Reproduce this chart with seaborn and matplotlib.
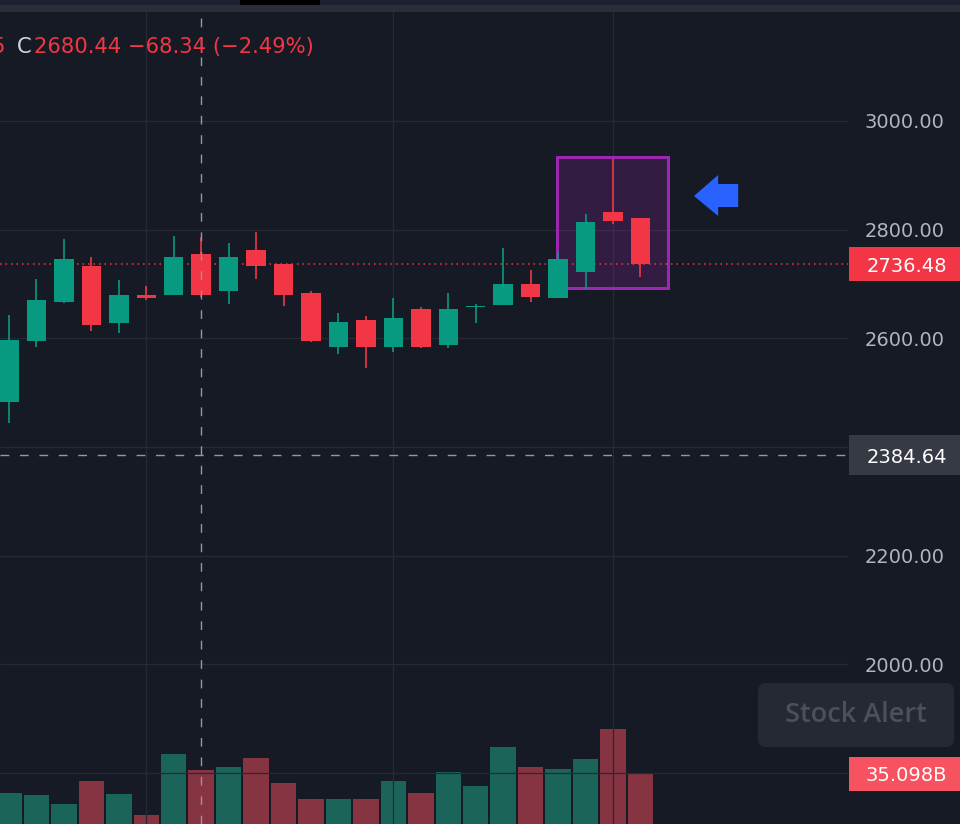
import numpy as np
import pandas as pd
import matplotlib
matplotlib.use("Agg")
import matplotlib.pyplot as plt
import seaborn as sns
from matplotlib.patches import Rectangle, FancyBboxPatch, Polygon
from matplotlib.transforms import blended_transform_factory, IdentityTransform

# ---------------- data ----------------
opens = [2482.8, 2595.1, 2666.9, 2733.1, 2628.2, 2679.7, 2679.7, 2755.2, 2687.1, 2762.6, 2736.8, 2683.4,
         2584.0, 2633.7, 2584.0, 2654.0, 2587.7, 2657.6, 2661.3, 2700.0, 2674.2, 2722.1, 2832.5, 2821.5]
highs = [2642.9, 2709.2, 2782.8, 2749.7, 2707.3, 2696.3, 2788.3, 2786.5, 2775.4, 2795.7, 2737.5, 2687.1,
         2646.6, 2641.1, 2674.2, 2657.6, 2683.4, 2663.2, 2766.2, 2725.8, 2758.9, 2828.8, 2930.1, 2821.5]
lows = [2444.1, 2584.0, 2665.0, 2613.5, 2609.8, 2670.5, 2679.7, 2676.0, 2663.2, 2709.2, 2659.5, 2594.0,
        2571.1, 2545.4, 2574.8, 2582.2, 2582.2, 2628.2, 2661.3, 2666.9, 2674.2, 2690.8, 2810.4, 2712.9]
closes = [2596.9, 2670.5, 2746.0, 2624.5, 2679.7, 2674.2, 2748.78, 2680.44, 2749.7, 2733.1, 2679.7, 2595.1,
          2630.0, 2584.0, 2637.4, 2584.0, 2654.0, 2659.5, 2700.0, 2676.1, 2746.0, 2814.1, 2815.9, 2736.48]
volumes_b = [28.8, 28.1, 25.2, 32.8, 28.5, 21.5, 41.7, 36.4, 37.4, 40.4, 32.1, 26.8,
             26.8, 26.8, 32.8, 28.8, 35.8, 31.1, 44.0, 37.4, 36.8, 40.1, 50.0, 35.098]

price_ticks = [1800, 2000, 2200, 2400, 2600, 2800, 3000]
hidden_tick_labels = [1800, 2400]   # covered by the price / volume labels in the reference
grid_x = [5, 14, 22]
last_price = 2736.48
cross_price = 2384.64
cross_index = 7
last_volume = 35.098
header_prefix = "5"
header_close_label = "C"
header_values = "2680.44 \u221268.34 (\u22122.49%)"
alert_label = "Stock Alert"

# annotation geometry (highlight box + arrow)
box_x0, box_x1 = 19.96, 24.0
box_y0, box_y1 = 2692.6, 2933.7
arrow_pts = [(24.95, 2862.0), (25.83, 2900.6), (25.83, 2884.0), (26.56, 2884.0),
             (26.56, 2841.7), (25.83, 2841.7), (25.83, 2825.1)]

# ---------------- style ----------------
BG = "#161a25"
GRID = "#262a35"
UP = "#089981"
DOWN = "#f23645"
UP_VOL = "#1b645a"
DOWN_VOL = "#863442"
TXT = "#b2b5be"

sns.set_style("dark", {"axes.facecolor": BG, "figure.facecolor": BG})
plt.rcParams["font.family"] = ["DejaVu Sans"]

df = pd.DataFrame({"idx": np.arange(len(opens)), "open": opens, "high": highs,
                   "low": lows, "close": closes, "vol": volumes_b})
df["dir"] = np.where(df["close"] >= df["open"], "up", "down")

W, H = 960, 824
fig = plt.figure(figsize=(W / 100, H / 100), dpi=100)
fig.patch.set_facecolor(BG)
ax = fig.add_axes([0, 0, 848 / W, (H - 12) / H])
ax_v = ax.twinx()

# volume (behind)
sns.barplot(data=df, x="idx", y="vol", hue="dir", palette={"up": UP_VOL, "down": DOWN_VOL},
            dodge=False, native_scale=True, width=0.93, saturation=1, legend=False,
            linewidth=0, ax=ax_v)
ax_v.set_ylim(18.54, 287.4)
ax_v.set_yticks([])
ax_v.set_ylabel("")
ax_v.set_xlabel("")
for s in ax_v.spines.values():
    s.set_visible(False)

ax.set_zorder(2)
ax_v.set_zorder(1)
ax.patch.set_visible(False)
ax_v.patch.set_visible(True)
ax_v.patch.set_facecolor(BG)

# candles
colors = np.where(df["dir"] == "up", UP, DOWN)
ax.vlines(df["idx"], df["low"], df["high"], colors=colors, linewidth=1.2, zorder=4)
body_bottom = np.minimum(df["open"], df["close"])
body_h = np.maximum(np.abs(df["close"] - df["open"]), 2.5)
ax.bar(df["idx"], body_h, bottom=body_bottom, width=0.71, color=colors, linewidth=0, zorder=5)

# highlight box and arrow
ax.add_patch(Rectangle((box_x0, box_y0), box_x1 - box_x0, box_y1 - box_y0,
                       facecolor=(0.61, 0.15, 0.69, 0.21), edgecolor="#9c27b0", linewidth=2.2, zorder=3))
ax.add_patch(Polygon(arrow_pts, closed=True, facecolor="#2962ff", edgecolor="none", zorder=6))

# lines
ax.axhline(last_price, color=DOWN, linewidth=1.1, linestyle=(0, (1, 2.6)), zorder=3.5)
ax.axhline(cross_price, color="#9598a1", linewidth=1.0, linestyle=(0, (6.3, 7.7)), zorder=6)
ax.axvline(cross_index, color="#9598a1", linewidth=1.0, linestyle=(0, (6.3, 7.7)), zorder=6)

# axes
ax.set_xlim(-0.328, 30.56)
ax.set_ylim(1706.1, 3200.6)
ax.set_xticks(grid_x)
ax.set_yticks(price_ticks)
ax.set_yticklabels(["" if t in hidden_tick_labels else f"{t:.2f}" for t in price_ticks])
ax.yaxis.tick_right()
ax.tick_params(axis="x", length=0, labelbottom=False)
ax.tick_params(axis="y", length=0, pad=12.2, labelsize=14, labelcolor=TXT)
ax.grid(True, color=GRID, linewidth=0.9)
ax.set_axisbelow(True)
for s in ax.spines.values():
    s.set_visible(False)

# price label boxes on right
tp = blended_transform_factory(fig.transFigure, ax.transData)
tv = blended_transform_factory(fig.transFigure, ax_v.transData)
for val, half, col, tr, txt in [
    (last_price, 31.3, DOWN, tp, f"{last_price:.2f}"),
    (cross_price, 36.8, "#363a45", tp, f"{cross_price:.2f}"),
    (last_volume, 5.63, "#f7525f", tv, f"{last_volume:.3f}B"),
]:
    fig.add_artist(Rectangle((849 / W, val - half), 111 / W, 2 * half, transform=tr,
                             facecolor=col, edgecolor="none", zorder=10))
    fig.text(947 / W, val, txt, transform=tr, ha="right", va="center_baseline",
             color="white", fontsize=14, zorder=11)

# header band
fig.add_artist(Rectangle((0, (H - 5) / H), 1, 5 / H, transform=fig.transFigure,
                         facecolor="#1c2030", edgecolor="none", zorder=10))
fig.add_artist(Rectangle((0, (H - 12) / H), 1, 7 / H, transform=fig.transFigure,
                         facecolor="#2a2e39", edgecolor="none", zorder=10))
fig.add_artist(Rectangle((240 / W, (H - 5) / H), 80 / W, 5 / H, transform=fig.transFigure,
                         facecolor="black", edgecolor="none", zorder=11))

# header text
base_y = (H - 53) / H
fig.text(5 / W, base_y, header_prefix, ha="right", va="baseline", color=DOWN, fontsize=15.2, zorder=12)
fig.text(17 / W, base_y, header_close_label, ha="left", va="baseline", color="#d1d4dc", fontsize=15.2, zorder=12)
fig.text(34 / W, base_y, header_values, ha="left", va="baseline", color=DOWN, fontsize=15.2, zorder=12)

# Stock Alert button
fig.add_artist(FancyBboxPatch((758, H - 747), 196, 64, boxstyle="round,pad=0,rounding_size=8",
                              transform=IdentityTransform(), facecolor="#252934", edgecolor="none", zorder=10))
fig.text(856 / W, (H - 715) / H, alert_label, ha="center", va="center", color="#4c505b",
         fontsize=19.5, fontfamily="Open Sans", fontweight="semibold", zorder=11)

fig.savefig("out.png", dpi=100, facecolor=BG)
